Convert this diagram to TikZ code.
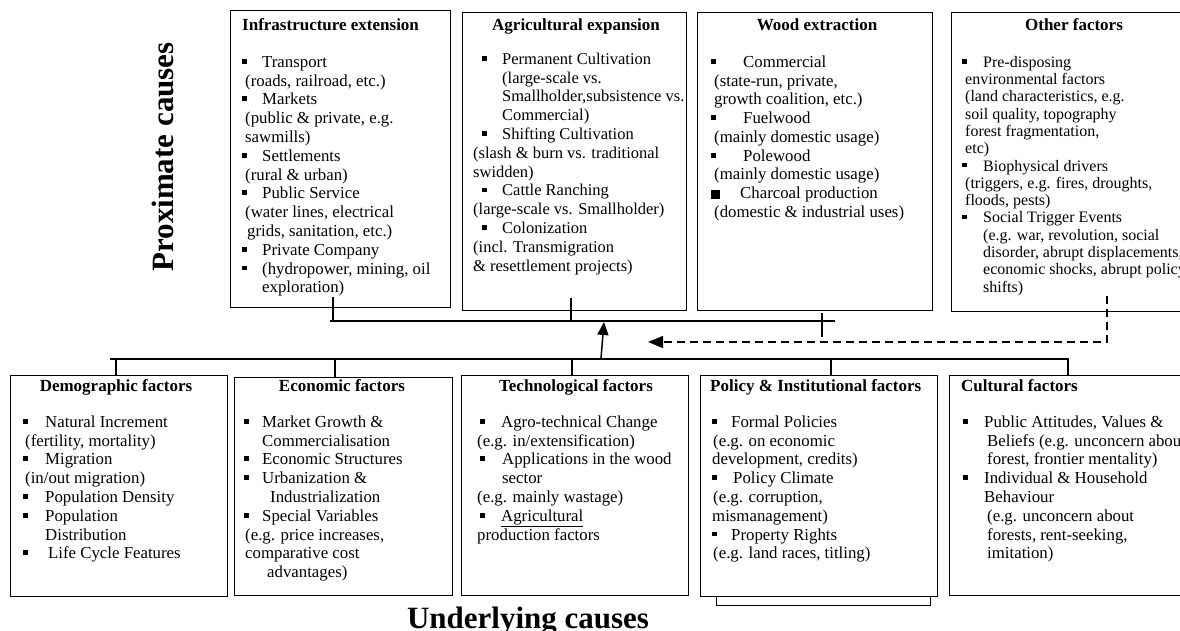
\documentclass[tikz,border=0pt]{standalone}
\usepackage{fontspec}
\setmainfont{Liberation Serif}
\usetikzlibrary{arrows.meta}
\newcommand{\sqb}{\rule[0.22em]{0.28em}{0.28em}}
\newcommand{\bigsq}{\rule[0em]{0.55em}{0.55em}}
\newcommand{\bi}[3]{\hspace*{#1pt}\makebox[#2pt][l]{\sqb}#3}
\newcommand{\ci}[2]{\hspace*{#1pt}#2}
\newcommand{\fst}{\rule{0pt}{15pt}}
\setlength{\lineskiplimit}{-20pt}
\begin{document}
\begin{tikzpicture}[x=1pt,y=-1pt,
 box/.style={draw, line width=1.4pt, inner sep=0pt, anchor=north west, fill=white},
 ttl/.style={font=\fontsize{17}{20}\selectfont\bfseries, inner sep=0pt},
 bodytxt/.style={anchor=north west, align=left, inner sep=0pt, font=\fontsize{16.8}{18.8}\selectfont},
 bodyag/.style={anchor=north west, align=left, inner sep=0pt, font=\fontsize{16.5}{18.8}\selectfont},
 bodysm/.style={anchor=north west, align=left, inner sep=0pt, font=\fontsize{16}{17.3}\selectfont},
 conn/.style={line width=1.5pt},
 big/.style={font=\fontsize{31}{36}\selectfont\bfseries, inner sep=0pt}]
\useasboundingbox (0,0) rectangle (1180,631);

% ---------- top boxes ----------
\node[box, minimum width=220pt, minimum height=297pt] (infra) at (230,10) {};
\node[box, minimum width=224pt, minimum height=298pt] (agri) at (462,12) {};
\node[box, minimum width=235pt, minimum height=298pt] (wood) at (697,12) {};
\node[box, minimum width=240pt, minimum height=299pt] (other) at (951,12) {};

% ---------- bottom boxes ----------
\node[box, minimum width=214pt, minimum height=220pt] (polsh) at (716,385) {};
\node[box, minimum width=217pt, minimum height=221pt] (demo) at (10,375) {};
\node[box, minimum width=218pt, minimum height=218pt] (econ) at (234,377) {};
\node[box, minimum width=227pt, minimum height=220pt] (tech) at (461,375) {};
\node[box, minimum width=237pt, minimum height=221pt] (policy) at (700,375) {};
\node[box, minimum width=240pt, minimum height=220pt] (cult) at (949,375) {};

% ---------- titles ----------
\node[ttl, anchor=base west] (infraT) at (242,31) {Infrastructure extension};
\node[ttl, anchor=base] (agriT) at (576,31) {Agricultural expansion};
\node[ttl, anchor=base] (woodT) at (817,31) {Wood extraction};
\node[ttl, anchor=base] (otherT) at (1074,31) {Other factors};
\node[ttl, anchor=base] (demoT) at (116,391) {Demographic factors};
\node[ttl, anchor=base] (econT) at (342,391) {Economic factors};
\node[ttl, anchor=base] (techT) at (576,391) {Technological factors};
\node[ttl, anchor=base west] (policyT) at (710,391) {Policy \& Institutional factors};
\node[ttl, anchor=base west] (cultT) at (961,391) {Cultural factors};

% ---------- texts ----------
\node[bodytxt] (infraB) at (242,52) {\fst\bi{0}{20}{Transport}\\
\ci{3}{(roads, railroad, etc.)}\\
\bi{0}{20}{Markets}\\
\ci{3}{(public \& private, e.g.}\\
\ci{3}{sawmills)}\\
\bi{0}{20}{Settlements}\\
\ci{3}{(rural \& urban)}\\
\bi{0}{20}{Public Service}\\
\ci{3}{(water lines, electrical}\\
\ci{5}{grids, sanitation, etc.)}\\
\bi{0}{20}{Private Company}\\
\bi{0}{20}{(hydropower, mining, oil}\\
\ci{20}{exploration)}};

\node[bodyag] (agriB) at (473,49) {\fst\bi{9}{20}{Permanent Cultivation}\\
\ci{29}{(large-scale vs.}\\
\ci{29}{Smallholder,subsistence vs.}\\
\ci{29}{Commercial)}\\
\bi{9}{20}{Shifting Cultivation}\\
\ci{0}{(slash \& burn vs. traditional}\\
\ci{0}{swidden)}\\
\bi{9}{20}{Cattle Ranching}\\
\ci{0}{(large-scale vs. Smallholder)}\\
\bi{9}{20}{Colonization}\\
\ci{0}{(incl. Transmigration}\\
\ci{0}{\& resettlement projects)}};

\node[bodytxt] (woodB) at (711,52) {\fst\bi{0}{32}{Commercial}\\
\ci{3}{(state-run, private,}\\
\ci{3}{growth coalition, etc.)}\\
\bi{0}{32}{Fuelwood}\\
\ci{3}{(mainly domestic usage)}\\
\bi{0}{32}{Polewood}\\
\ci{3}{(mainly domestic usage)}\\
\makebox[29pt][l]{\bigsq}Charcoal production\\
\ci{3}{(domestic \& industrial uses)}};

\node[bodysm] (otherB) at (962,52) {\fst\bi{0}{21}{Pre-disposing}\\
\ci{3}{environmental factors}\\
\ci{3}{(land characteristics, e.g.}\\
\ci{3}{soil quality, topography}\\
\ci{3}{forest fragmentation,}\\
\ci{3}{etc)}\\
\bi{0}{21}{Biophysical drivers}\\
\ci{3}{(triggers, e.g. fires, droughts,}\\
\ci{3}{floods, pests)}\\
\bi{0}{21}{Social Trigger Events}\\
\ci{21}{(e.g. war, revolution, social}\\
\ci{21}{disorder, abrupt displacements,}\\
\ci{21}{economic shocks, abrupt policy}\\
\ci{21}{shifts)}};

\node[bodytxt] (demoB) at (23,412) {\fst\bi{0}{22}{Natural Increment}\\
\ci{2}{(fertility, mortality)}\\
\bi{0}{22}{Migration}\\
\ci{2}{(in/out migration)}\\
\bi{0}{22}{Population Density}\\
\bi{0}{22}{Population}\\
\ci{22}{Distribution}\\
\bi{0}{25}{Life Cycle Features}};

\node[bodytxt] (econB) at (244,412) {\fst\bi{0}{18}{Market Growth \&}\\
\ci{18}{Commercialisation}\\
\bi{0}{18}{Economic Structures}\\
\bi{0}{18}{Urbanization \&}\\
\ci{26}{Industrialization}\\
\bi{0}{18}{Special Variables}\\
\ci{1}{(e.g. price increases,}\\
\ci{1}{comparative cost}\\
\ci{23}{advantages)}};

\node[bodytxt] (techB) at (477,412) {\fst\bi{3}{21}{Agro-technical Change}\\
\ci{0}{(e.g. in/extensification)}\\
\bi{3}{22}{Applications in the wood}\\
\ci{25}{sector}\\
\ci{0}{(e.g. mainly wastage)}\\
\bi{3}{21}{\underline{Agricultural}}\\
\ci{0}{production factors}};

\node[bodytxt] (policyB) at (712,412) {\fst\bi{0}{19}{Formal Policies}\\
\ci{1}{(e.g. on economic}\\
\ci{0}{development, credits)}\\
\bi{0}{21}{Policy Climate}\\
\ci{1}{(e.g. corruption,}\\
\ci{0}{mismanagement)}\\
\bi{0}{19}{Property Rights}\\
\ci{1}{(e.g. land races, titling)}};

\node[bodytxt] (cultB) at (963,412) {\fst\bi{0}{21}{Public Attitudes, Values \&}\\
\ci{24}{Beliefs (e.g. unconcern about}\\
\ci{24}{forest, frontier mentality)}\\
\bi{0}{21}{Individual \& Household}\\
\ci{21}{Behaviour}\\
\ci{24}{(e.g. unconcern about}\\
\ci{24}{forests, rent-seeking,}\\
\ci{24}{imitation)}};

% ---------- side labels ----------
\node[big, rotate=90] (prox) at (163,157) {Proximate causes};
\node[big, anchor=base] (under) at (528,628) {Underlying causes};

% ---------- connectors ----------
\coordinate (s1) at (333,297); \coordinate (s1b) at (333,321);
\coordinate (s2) at (571,298); \coordinate (s2b) at (571,321);
\coordinate (s3) at (822,313); \coordinate (s3b) at (822,337);
\coordinate (tl) at (330,321); \coordinate (tr) at (835,321);
\draw[conn] (tl) -- (tr);
\draw[conn] (s1) -- (s1b);
\draw[conn] (s2) -- (s2b);
\draw[conn] (s3) -- (s3b);

\coordinate (bl) at (110,359); \coordinate (br) at (1069,359);
\draw[conn] (bl) -- (br);
\coordinate (b1) at (116,359); \coordinate (b2) at (335,359);
\coordinate (b3) at (572,359); \coordinate (b4) at (831,359);
\coordinate (b5) at (1068,359);
\draw[conn] (b1) -- (b1 |- demo.north);
\draw[conn] (b2) -- (b2 |- econ.north);
\draw[conn] (b3) -- (b3 |- tech.north);
\draw[conn] (b4) -- (b4 |- policy.north);
\draw[conn] (b5) -- (b5 |- cult.north);

\coordinate (a0) at (601,358); \coordinate (a1) at (604,322);
\draw[conn, -{Triangle[length=13pt,width=11pt]}] (a0) -- (a1);

\coordinate (d0) at (1107,296); \coordinate (d1) at (648,342);
\draw[conn, dash pattern=on 8pt off 5pt, -{Triangle[length=15pt,width=12pt]}] (d0) |- (d1);
\end{tikzpicture}
\end{document}
